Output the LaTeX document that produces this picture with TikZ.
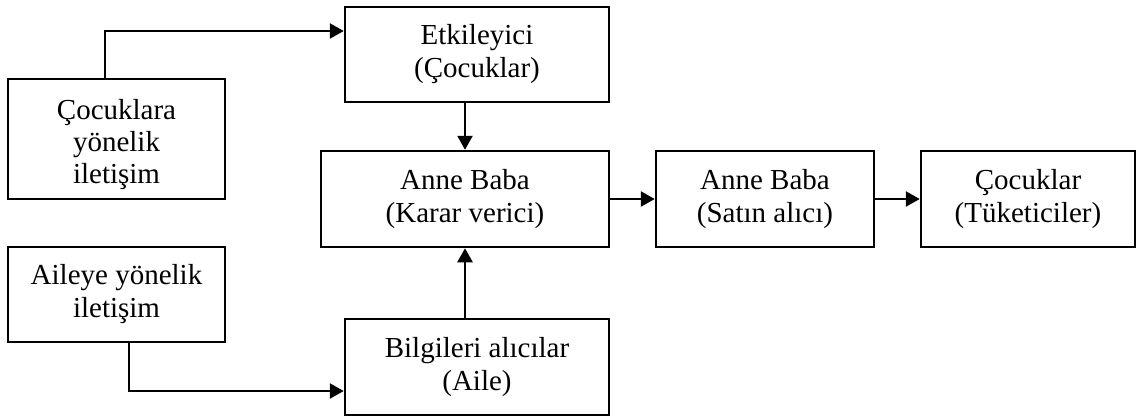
\documentclass[tikz,border=0pt]{standalone}
\usepackage{fontspec}
\setmainfont{Liberation Serif}
\usetikzlibrary{arrows.meta}
\begin{document}
\begin{tikzpicture}[x=1pt,y=-1pt,
  box/.style={draw,line width=2.5pt,align=center,inner sep=0pt,
    font=\fontsize{29}{33}\selectfont},
  boxtext/.style={align=center,inner sep=0pt,font=\fontsize{29}{32}\selectfont},
  arr/.style={line width=2.5pt,-{Triangle[length=14pt,width=15pt]}}]
\useasboundingbox (0,0) rectangle (1138,416);
% source boxes on the left
\node[box,minimum width=217pt,minimum height=120pt] (cocuk) at (116.5,139) {};
\node[boxtext] (cocuk-text) at ([yshift=-6pt]cocuk.center) {Çocuklara\\yönelik\\iletişim};
\node[box,minimum width=217pt,minimum height=95pt] (aile) at (116.5,294.5) {Aileye yönelik\\iletişim};
% influencer and receivers
\node[box,minimum width=264pt,minimum height=95pt] (etki) at (477,54.5) {Etkileyici\\(Çocuklar)};
\node[box,minimum width=264pt,minimum height=96pt] (bilgi) at (477,367) {Bilgileri alıcılar\\(Aile)};
% main chain
\node[box,minimum width=288pt,minimum height=96pt] (karar) at (465,199) {Anne Baba\\(Karar verici)};
\node[box,minimum width=218pt,minimum height=96pt] (satin) at (765,199) {Anne Baba\\(Satın alıcı)};
\node[box,minimum width=214pt,minimum height=96pt] (tuket) at (1028,199) {Çocuklar\\(Tüketiciler)};
% connectors
\draw[arr] ([xshift=-11.5pt]cocuk.north) |- ([yshift=23.5pt]etki.west);
\draw[arr] ([xshift=12.5pt]aile.south) |- ([yshift=-24pt]bilgi.west);
\draw[arr] (etki.south -| karar.north) -- (karar.north);
\draw[arr] (bilgi.north -| karar.south) -- (karar.south);
\draw[arr] (karar.east) -- (satin.west);
\draw[arr] (satin.east) -- (tuket.west);
\end{tikzpicture}
\end{document}
